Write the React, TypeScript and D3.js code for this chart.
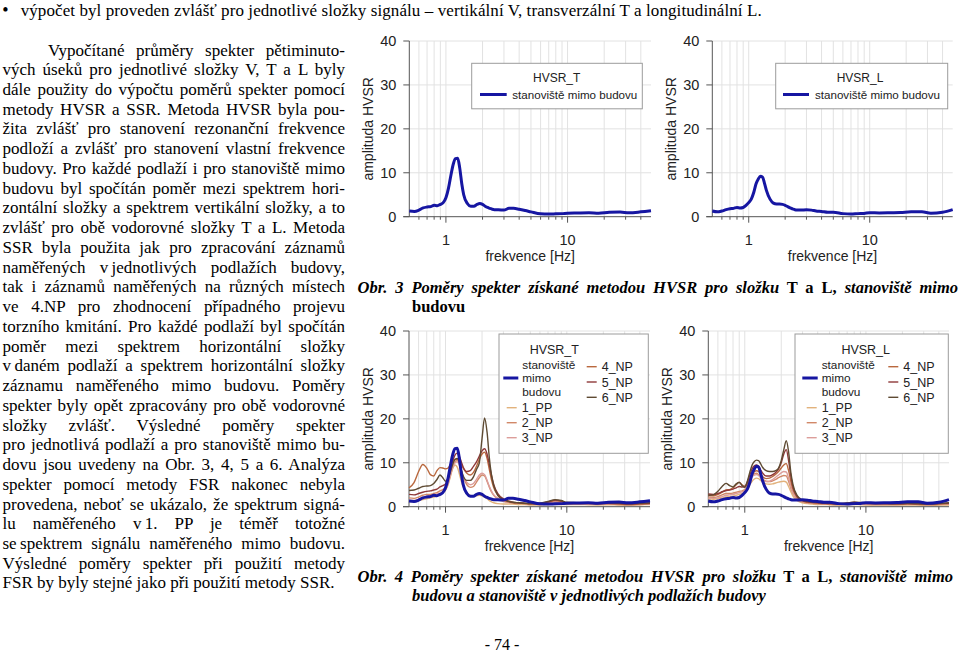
import React, { useLayoutEffect, useRef } from "react";
import * as d3 from "d3";

// ---------- DATA ----------
const freqHz = [
  0.5, 0.55, 0.6, 0.65, 0.7, 0.75, 0.8, 0.85, 0.9, 0.95,
  1.0, 1.05, 1.1, 1.15, 1.2, 1.25, 1.3, 1.35, 1.4,
  1.5, 1.6, 1.7, 1.8, 1.9, 2.0, 2.1, 2.2, 2.3, 2.4, 2.5,
  2.7, 3.0, 3.3, 3.6, 4.0, 4.5, 5.0,
  6, 7, 8, 9, 10,
  12, 15, 18, 22, 27, 32, 40, 48.5,
];

const outsideT = [
  1.3, 1.2, 1.5, 2.0, 2.2, 2.3, 2.6, 2.5, 2.8, 3.2,
  4.3, 6.5, 9.5, 12.0, 13.2, 13.3, 11.0, 7.5, 5.0,
  3.0, 2.4, 2.4, 2.8, 3.0, 2.8, 2.4, 2.1, 1.9, 1.7, 1.6,
  1.6, 1.5, 1.9, 1.9, 1.7, 1.4, 1.1,
  0.65, 0.6, 0.65, 0.7, 0.8,
  0.85, 0.9, 0.8, 1.0, 1.05, 0.9, 1.1, 1.35,
];
const outsideL = [
  1.3, 1.1, 1.3, 1.6, 1.8, 1.9, 2.1, 2.0, 2.1, 2.6,
  3.2, 4.0, 5.5, 7.5, 8.6, 9.2, 9.0, 7.6, 6.0,
  4.0, 3.1, 2.9, 2.9, 2.8, 2.6, 2.3, 2.0, 1.8, 1.6, 1.5,
  1.5, 1.6, 1.5, 1.3, 1.2, 1.0, 1.0,
  0.7, 0.6, 0.7, 0.75, 0.9,
  0.85, 0.9, 0.95, 1.1, 1.1, 0.8, 1.0, 1.6,
];

const pp1T = [
  1.2, 1.2, 1.4, 1.6, 1.8, 2.0, 2.2, 2.4, 2.8, 3.2,
  3.8, 5.0, 7.0, 8.8, 9.5, 9.0, 7.5, 5.8, 4.5,
  3.2, 2.6, 2.4, 2.5, 2.6, 2.5, 2.2, 1.8, 1.4, 1.1, 0.9,
  0.7, 0.6, 0.6, 0.6, 0.5, 0.5, 0.4,
  0.4, 0.5, 0.6, 0.5, 0.5,
  0.5, 0.45, 0.4, 0.45, 0.4, 0.4, 0.45, 0.5,
];
const np2T = [
  2.0, 1.9, 2.2, 2.6, 2.8, 2.8, 3.0, 3.2, 3.6, 3.9,
  4.3, 5.5, 7.5, 9.3, 10.3, 10.5, 9.8, 8.2, 6.8,
  5.0, 4.4, 4.6, 5.6, 6.6, 7.2, 7.0, 5.8, 4.4, 3.3, 2.6,
  1.8, 1.2, 1.0, 0.9, 0.8, 0.7, 0.6,
  0.5, 0.8, 1.1, 0.9, 0.7,
  0.6, 0.6, 0.55, 0.6, 0.5, 0.45, 0.5, 0.6,
];
const np3T = [
  1.5, 1.4, 1.7, 2.1, 2.4, 2.5, 2.7, 2.9, 3.1, 3.4,
  3.9, 5.2, 7.2, 9.0, 10.0, 10.2, 9.5, 8.0, 6.8,
  5.5, 5.0, 5.3, 6.2, 7.2, 7.6, 7.3, 6.0, 4.6, 3.5, 2.7,
  1.9, 1.3, 1.0, 0.9, 0.8, 0.7, 0.6,
  0.6, 0.9, 1.2, 1.0, 0.7,
  0.65, 0.6, 0.6, 0.65, 0.55, 0.5, 0.55, 0.6,
];
const np4T = [
  4.3, 5.5, 8.0, 9.6, 8.8, 7.3, 7.0, 8.2, 8.9, 8.8,
  8.6, 8.8, 9.6, 10.3, 10.7, 10.8, 10.4, 9.6, 8.8,
  7.6, 7.2, 7.8, 9.2, 10.8, 12.0, 12.4, 11.0, 8.4, 6.0, 4.3,
  2.6, 1.5, 1.1, 0.9, 0.8, 0.7, 0.6,
  0.6, 1.0, 1.4, 1.2, 0.8,
  0.7, 0.7, 0.6, 0.7, 0.6, 0.5, 0.6, 0.7,
];
const np5T = [
  2.8, 2.7, 3.0, 3.3, 3.5, 3.6, 3.8, 4.0, 4.5, 4.8,
  5.2, 6.5, 8.5, 10.5, 11.8, 12.2, 11.5, 10.2, 9.0,
  8.0, 8.2, 9.2, 10.2, 11.5, 12.7, 13.2, 12.0, 9.5, 7.0, 5.0,
  3.0, 1.8, 1.3, 1.0, 0.9, 0.8, 0.7,
  0.7, 1.1, 1.5, 1.3, 0.9,
  0.8, 0.8, 0.7, 0.8, 0.7, 0.6, 0.7, 0.8,
];
const np6T = [
  3.7, 3.8, 4.2, 4.6, 4.7, 4.8, 5.3, 6.2, 7.2, 6.6,
  5.8, 6.4, 8.0, 9.8, 10.8, 11.0, 10.0, 8.4, 7.0,
  6.0, 6.0, 6.8, 8.5, 10.0, 15.5, 20.2, 17.0, 11.0, 7.0, 4.8,
  2.6, 1.6, 1.2, 1.0, 0.9, 0.8, 0.7,
  0.8, 1.2, 1.6, 1.4, 1.0,
  0.9, 0.9, 0.8, 0.9, 0.8, 0.7, 0.8, 0.9,
];

const pp1L = [
  1.8, 1.7, 1.8, 2.0, 2.2, 2.3, 2.4, 2.6, 2.8, 3.0,
  3.3, 4.0, 5.0, 5.8, 6.3, 6.5, 6.4, 6.0, 5.6,
  5.2, 5.1, 5.2, 5.4, 5.6, 5.7, 5.8, 5.6, 4.6, 3.4, 2.4,
  1.4, 0.9, 0.7, 0.6, 0.5, 0.5, 0.45,
  0.4, 0.45, 0.5, 0.45, 0.4,
  0.4, 0.35, 0.4, 0.4, 0.35, 0.3, 0.35, 0.4,
];
const np2L = [
  2.2, 2.1, 2.3, 2.7, 3.0, 3.0, 3.1, 3.3, 3.5, 3.6,
  3.9, 4.8, 6.0, 7.0, 7.5, 7.6, 7.3, 6.8, 6.3,
  5.8, 5.7, 5.9, 6.2, 6.6, 6.9, 7.1, 7.0, 5.8, 4.2, 3.0,
  1.8, 1.1, 0.9, 0.8, 0.7, 0.6, 0.55,
  0.5, 0.6, 0.7, 0.6, 0.55,
  0.5, 0.5, 0.5, 0.55, 0.5, 0.45, 0.5, 0.6,
];
const np3L = [
  2.0, 1.9, 2.0, 2.3, 2.6, 2.7, 2.8, 3.0, 3.2, 3.4,
  3.7, 4.6, 5.9, 6.8, 7.2, 7.3, 7.1, 6.6, 6.1,
  5.7, 5.8, 6.2, 6.7, 7.2, 7.7, 8.0, 7.9, 6.5, 4.6, 3.2,
  1.9, 1.2, 0.9, 0.8, 0.7, 0.65, 0.6,
  0.55, 0.65, 0.75, 0.65, 0.6,
  0.55, 0.55, 0.5, 0.6, 0.55, 0.5, 0.55, 0.6,
];
const np4L = [
  2.6, 2.5, 2.8, 3.3, 3.8, 3.9, 4.3, 5.0, 5.6, 5.0,
  4.6, 5.2, 6.5, 7.5, 8.0, 8.2, 8.0, 7.4, 6.9,
  6.4, 6.5, 6.9, 7.4, 8.0, 8.8, 9.5, 9.8, 8.2, 5.8, 3.9,
  2.2, 1.3, 1.0, 0.9, 0.8, 0.7, 0.65,
  0.6, 0.75, 0.9, 0.8, 0.7,
  0.6, 0.6, 0.6, 0.65, 0.6, 0.55, 0.6, 0.7,
];
const np5L = [
  2.9, 2.8, 3.0, 3.4, 3.7, 3.8, 4.0, 4.3, 4.6, 4.5,
  4.6, 5.6, 7.2, 8.6, 9.3, 9.5, 9.2, 8.4, 7.7,
  7.0, 7.0, 7.3, 7.8, 8.6, 10.0, 12.0, 13.0, 10.5, 7.0, 4.5,
  2.4, 1.4, 1.1, 1.0, 0.9, 0.8, 0.7,
  0.65, 0.8, 1.0, 0.9, 0.8,
  0.7, 0.7, 0.65, 0.7, 0.65, 0.6, 0.7, 0.8,
];
const np6L = [
  2.6, 2.7, 3.5, 4.6, 5.3, 4.8, 4.5, 5.2, 5.5, 4.8,
  4.4, 5.8, 7.8, 9.5, 10.3, 10.6, 10.5, 9.8, 9.0,
  8.2, 8.0, 8.0, 8.2, 8.8, 10.5, 13.0, 15.0, 12.5, 7.8, 5.0,
  2.6, 1.5, 1.2, 1.1, 1.0, 0.9, 0.8,
  0.7, 0.85, 1.0, 0.95, 0.85,
  0.75, 0.75, 0.7, 0.75, 0.7, 0.65, 0.75, 0.9,
];

const yTicks = [0, 10, 20, 30, 40];
const xTickLabels = [1, 10];
const floorNames = ["1_PP", "2_NP", "3_NP", "4_NP", "5_NP", "6_NP"];
const floorColors = ["#e2b27c", "#d18868", "#dc9d9a", "#b9683e", "#8e3838", "#5e4a32"];
const outsideColor = "#1616a2";
const outsideLabel = ["stanoviště", "mimo", "budovu"];

const bulletLine =
  "výpočet byl proveden zvlášť pro jednotlivé složky signálu – vertikální V, transverzální T a longitudinální L.";

const bodyLines = [
  "Vypočítané průměry spekter pětiminuto-",
  "vých úseků pro jednotlivé složky V, T a L byly",
  "dále použity do výpočtu poměrů spekter pomocí",
  "metody HVSR a SSR. Metoda HVSR byla pou-",
  "žita zvlášť pro stanovení rezonanční frekvence",
  "podloží a zvlášť pro stanovení vlastní frekvence",
  "budovy. Pro každé podlaží i pro stanoviště mimo",
  "budovu byl spočítán poměr mezi spektrem hori-",
  "zontální složky a spektrem vertikální složky, a to",
  "zvlášť pro obě vodorovné složky T a L. Metoda",
  "SSR byla použita jak pro zpracování záznamů",
  "naměřených v\u2009jednotlivých podlažích budovy,",
  "tak i záznamů naměřených na různých místech",
  "ve 4.NP pro zhodnocení případného projevu",
  "torzního kmitání. Pro každé podlaží byl spočítán",
  "poměr mezi spektrem horizontální složky",
  "v\u2009daném podlaží a spektrem horizontální složky",
  "záznamu naměřeného mimo budovu. Poměry",
  "spekter byly opět zpracovány pro obě vodorovné",
  "složky zvlášť. Výsledné poměry spekter",
  "pro jednotlivá podlaží a pro stanoviště mimo bu-",
  "dovu jsou uvedeny na Obr. 3, 4, 5 a 6. Analýza",
  "spekter pomocí metody FSR nakonec nebyla",
  "provedena, neboť se ukázalo, že spektrum signá-",
  "lu naměřeného v\u20091. PP je téměř totožné",
  "se\u2009spektrem signálu naměřeného mimo budovu.",
  "Výsledné poměry spekter při použití metody",
  "FSR by byly stejné jako při použití metody SSR.",
];

const caption3a = "Obr. 3 Poměry spekter získané metodou HVSR pro složku";
const caption3b = " T a L, ";
const caption3c = "stanoviště mimo";
const caption3d = "budovu";
const caption4a = "Obr. 4 Poměry spekter získané metodou HVSR pro složku";
const caption4b = " T a L, ";
const caption4c = "stanoviště mimo";
const caption4d = "budovu a stanoviště v jednotlivých podlažích budovy";
const pageNumber = "- 74 -";

// ---------- COMPONENTS ----------
function JText({ x, y, width, justify = true, children, ...rest }: any) {
  const ref = useRef<SVGTextElement>(null);
  useLayoutEffect(() => {
    const el = ref.current;
    if (!el) return;
    el.style.wordSpacing = "0px";
    if (!justify) return;
    const w = el.getComputedTextLength();
    const n = (el.textContent || "").split(" ").length - 1;
    if (n > 0) el.style.wordSpacing = `${(width - w) / n}px`;
  });
  return (
    <text ref={ref} x={x} y={y} {...rest}>
      {children}
    </text>
  );
}

const SANS = "'Liberation Sans', Arial, sans-serif";
const SERIF = "'Liberation Serif', 'Times New Roman', serif";

function Chart({ left, right, top, bottom, outside, floors, title, legend }: any) {
  const x = d3.scaleLog().domain([freqHz[0], freqHz[freqHz.length - 1]]).range([left, right]);
  const y = d3.scaleLinear().domain([0, 40]).range([bottom, top]);
  const line = d3
    .line<number>()
    .x((_, i) => x(freqHz[i]))
    .y((d) => y(d))
    .curve(d3.curveMonotoneX);
  const minor: number[] = [];
  [0.1, 1, 10].forEach((dec) => {
    for (let k = 1; k < 10; k++) {
      const v = +(k * dec).toFixed(3);
      if (v > 0.5 + 1e-6 && v < 48.5) minor.push(v);
    }
  });
  const axisColor = "#555";
  return (
    <g>
      {minor.map((v) => (
        <line key={"g" + v} x1={x(v)} x2={x(v)} y1={top} y2={bottom} stroke="#e2e2e2" strokeWidth={1} />
      ))}
      {yTicks.slice(1).map((t) => (
        <line key={"h" + t} x1={left} x2={right} y1={y(t)} y2={y(t)} stroke="#e2e2e2" strokeWidth={1} />
      ))}
      {/* axes */}
      <line x1={left} x2={left} y1={top} y2={bottom} stroke={axisColor} strokeWidth={1} />
      <line x1={left - 6} x2={right} y1={bottom} y2={bottom} stroke={axisColor} strokeWidth={1} />
      {yTicks.map((t) => (
        <g key={"yt" + t}>
          <line x1={left - 6} x2={left} y1={y(t)} y2={y(t)} stroke={axisColor} />
          <text x={left - 13} y={y(t)} dy="0.36em" textAnchor="end" fontFamily={SANS} fontSize={14.5} fill="#222">
            {t}
          </text>
        </g>
      ))}
      {minor.map((v) => (
        <line
          key={"xt" + v}
          x1={x(v)}
          x2={x(v)}
          y1={bottom}
          y2={bottom + (v === 1 || v === 10 ? 6 : 3)}
          stroke={axisColor}
        />
      ))}
      {xTickLabels.map((t) => (
        <text key={"xl" + t} x={x(t)} y={bottom + 28} textAnchor="middle" fontFamily={SANS} fontSize={14.5} fill="#222">
          {t}
        </text>
      ))}
      <text x={(left + right) / 2} y={bottom + 44} textAnchor="middle" fontFamily={SANS} fontSize={14} fill="#222">
        frekvence [Hz]
      </text>
      <text
        transform={`translate(${left - 41},${(top + bottom) / 2}) rotate(-90)`}
        textAnchor="middle"
        dy="0.36em"
        fontFamily={SANS}
        fontSize={14}
        fill="#222"
      >
        amplituda HVSR
      </text>
      {/* series */}
      {floors &&
        floors.map((vals: number[], i: number) => (
          <path key={"f" + i} d={line(vals) || ""} fill="none" stroke={floorColors[i]} strokeWidth={1.4} />
        ))}
      <path d={line(outside) || ""} fill="none" stroke={outsideColor} strokeWidth={3} strokeLinejoin="round" />
      {/* legend */}
      {legend.kind === "single" ? (
        <g fontFamily={SANS} fill="#222">
          <rect x={legend.rx} y={top + 22.3} width={legend.rw} height={45.5} fill="#fff" stroke="#9c9c9c" />
          <text x={legend.titleX} y={top + 36.7} dy="0.36em" textAnchor="middle" fontSize={12}>
            {title}
          </text>
          <line x1={legend.lx1} x2={legend.lx2} y1={top + 53.5} y2={top + 53.5} stroke={outsideColor} strokeWidth={3} />
          <text x={legend.tx} y={top + 53.5} dy="0.36em" fontSize={11.6}>
            {outsideLabel.join(" ")}
          </text>
        </g>
      ) : (
        <g fontFamily={SANS} fill="#222">
          <rect x={legend.rx} y={top + 3} width={legend.rw} height={119.3} fill="#fff" stroke="#9c9c9c" />
          <text x={legend.titleX} y={top + 18.3} dy="0.36em" textAnchor="middle" fontSize={12.5}>
            {title}
          </text>
          {outsideLabel.map((s, i) => (
            <text key={s} x={legend.tx} y={top + 33.6 + i * 13.4} dy="0.36em" fontSize={11.8}>
              {s}
            </text>
          ))}
          <line x1={legend.bx1} x2={legend.bx2} y1={top + 47} y2={top + 47} stroke={outsideColor} strokeWidth={3} />
          {floorNames.map((name, i) => {
            const col2 = i >= 3;
            const yy = col2 ? top + 35.7 + (i - 3) * 15.3 : top + 76.7 + i * 15;
            const lx = col2 ? legend.c2x : legend.c1x;
            return (
              <g key={name}>
                <line x1={lx} x2={lx + 10} y1={yy} y2={yy} stroke={floorColors[i]} strokeWidth={1.4} />
                <text x={lx + 15} y={yy} dy="0.36em" fontSize={12.5}>
                  {name}
                </text>
              </g>
            );
          })}
        </g>
      )}
    </g>
  );
}

export default function App() {
  const lineH = 19.74;
  const base0 = 55.5;
  return (
    <svg
      width={959}
      height={652}
      viewBox="0 0 959 652"
      style={{ position: "absolute", left: 0, top: 0, background: "#fff" }}
    >
      <rect x={0} y={0} width={959} height={652} fill="#fff" />
      {/* bullet line */}
      <text x={5.5} y={16} textAnchor="middle" fontFamily={SERIF} fontSize={18} fill="#000">
        •
      </text>
      <text x={20.7} y={15.5} fontFamily={SERIF} fontSize={17} fill="#000" textLength={741} lengthAdjust="spacing">
        {bulletLine}
      </text>
      {/* body paragraph */}
      {bodyLines.map((t, i) => {
        const last = i === bodyLines.length - 1;
        const x0 = i === 0 ? 48 : 2.5;
        return (
          <JText
            key={i}
            x={x0}
            y={base0 + i * lineH}
            width={345 - x0}
            justify={!last}
            fontFamily={SERIF}
            fontSize={17}
            fill="#000"
          >
            {t}
          </JText>
        );
      })}
      {/* charts */}
      <Chart
        left={409.3}
        right={651}
        top={41}
        bottom={216.7}
        outside={outsideT}
        title="HVSR_T"
        legend={{ kind: "single", rx: 471.7, rw: 170.6, titleX: 556.7, lx1: 480, lx2: 506.7, tx: 512.3 }}
      />
      <Chart
        left={712.3}
        right={952.7}
        top={41}
        bottom={216.7}
        outside={outsideL}
        title="HVSR_L"
        legend={{ kind: "single", rx: 775.7, rw: 172, titleX: 860, lx1: 783, lx2: 809, tx: 815 }}
      />
      <Chart
        left={409}
        right={650}
        top={331}
        bottom={506.7}
        outside={outsideT}
        floors={[pp1T, np2T, np3T, np4T, np5T, np6T]}
        title="HVSR_T"
        legend={{ kind: "multi", rx: 499, rw: 149.3, titleX: 554.3, tx: 522.3, bx1: 503.3, bx2: 518.3, c1x: 506.7, c2x: 586.7 }}
      />
      <Chart
        left={708.3}
        right={949}
        top={331}
        bottom={506.7}
        outside={outsideL}
        floors={[pp1L, np2L, np3L, np4L, np5L, np6L]}
        title="HVSR_L"
        legend={{ kind: "multi", rx: 795, rw: 153.3, titleX: 865.7, tx: 821.7, bx1: 802.3, bx2: 817.7, c1x: 806.7, c2x: 888.3 }}
      />
      {/* captions */}
      <JText x={357.5} y={292.5} width={600.5} fontFamily={SERIF} fontSize={16.5} fontWeight="bold" fill="#000">
        <tspan fontStyle="italic">{caption3a}</tspan>
        {caption3b}
        <tspan fontStyle="italic">{caption3c}</tspan>
      </JText>
      <text x={412} y={311.5} fontFamily={SERIF} fontSize={16.5} fontWeight="bold" fill="#000">
        {caption3d}
      </text>
      <JText x={357.5} y={581.5} width={595.5} fontFamily={SERIF} fontSize={16.5} fontWeight="bold" fill="#000">
        <tspan fontStyle="italic">{caption4a}</tspan>
        {caption4b}
        <tspan fontStyle="italic">{caption4c}</tspan>
      </JText>
      <text x={412} y={600.5} fontFamily={SERIF} fontSize={16.5} fontWeight="bold" fontStyle="italic" fill="#000">
        {caption4d}
      </text>
      <text x={502} y={650} textAnchor="middle" fontFamily={SERIF} fontSize={16} fill="#000">
        {pageNumber}
      </text>
    </svg>
  );
}
